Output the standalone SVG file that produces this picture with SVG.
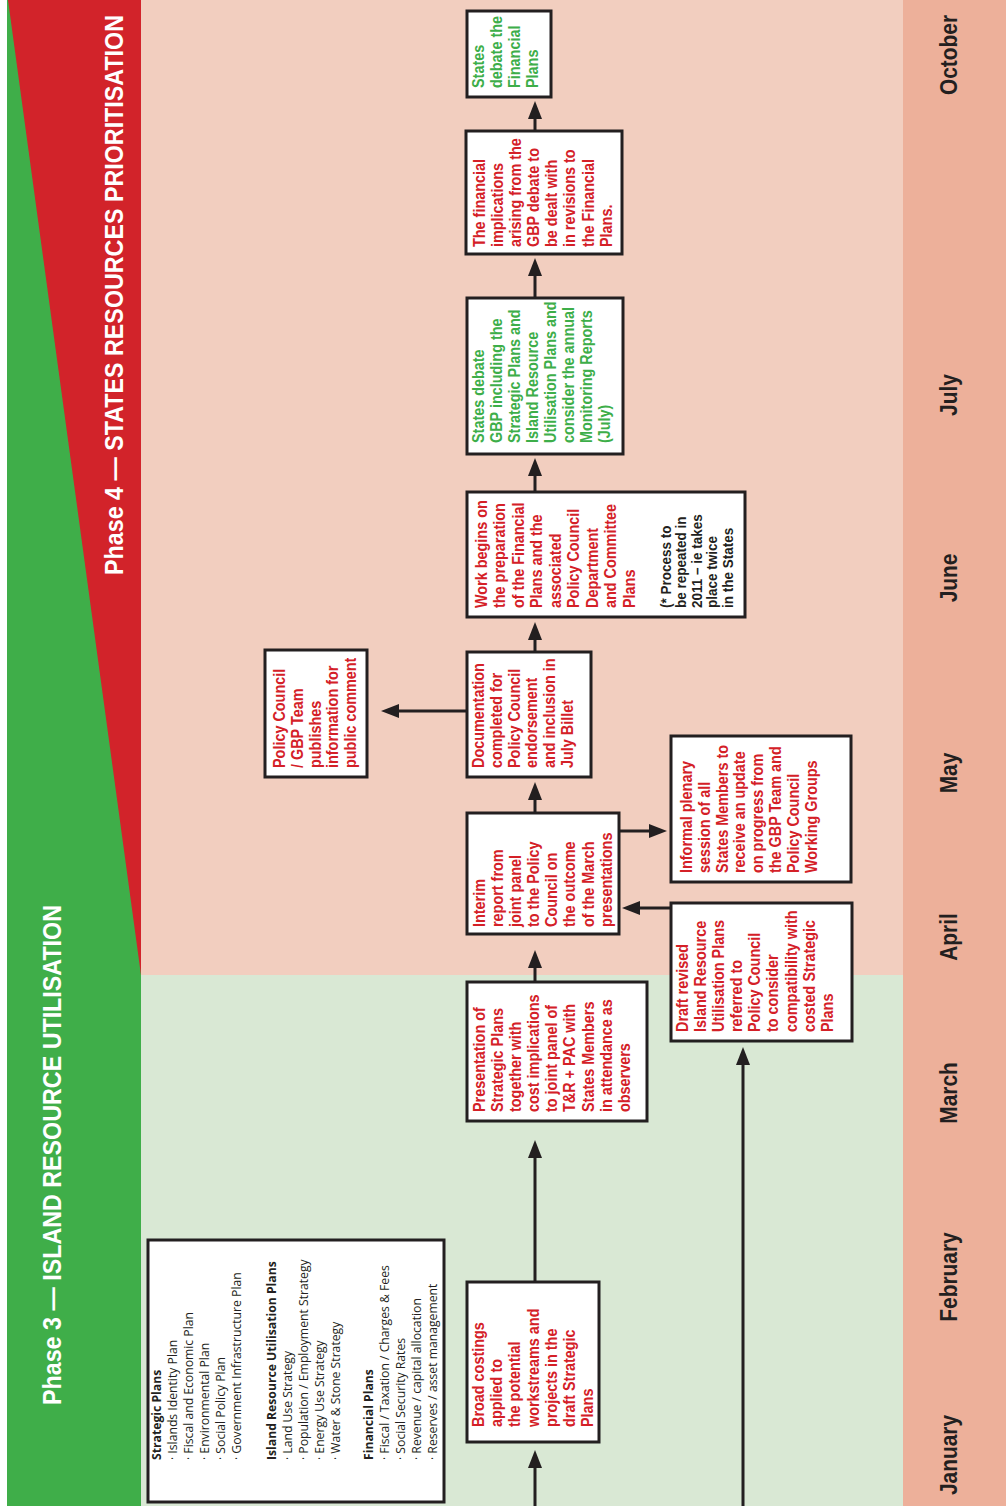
<svg xmlns="http://www.w3.org/2000/svg" width="1006" height="1506" viewBox="0 0 1006 1506">
<defs>
<style>
.box{fill:#fff;stroke:#231F20;stroke-width:3}
.r{font-family:"Liberation Sans",Arial,sans-serif;font-weight:bold;font-size:16px;fill:#D42027}
.g{font-family:"Liberation Sans",Arial,sans-serif;font-weight:bold;font-size:16px;fill:#3DAE49}
.k{font-family:"Liberation Sans",Arial,sans-serif;font-weight:bold;font-size:15px;fill:#231F20}
.lg{font-family:"Open Sans",sans-serif;font-size:12.2px;fill:#231F20}
.lgb{font-family:"Open Sans",sans-serif;font-size:12.2px;font-weight:bold;fill:#231F20}
.mo{font-family:"Liberation Sans",Arial,sans-serif;font-weight:bold;font-size:24px;fill:#231F20;text-anchor:middle}
.ti{font-family:"Liberation Sans",Arial,sans-serif;font-weight:bold;font-size:25px;fill:#fff}
.c{stroke:#231F20;stroke-width:3;fill:none;marker-end:url(#ah)}
</style>
<marker id="ah" viewBox="0 0 18 14" refX="8" refY="7" markerWidth="18" markerHeight="14" markerUnits="userSpaceOnUse" orient="auto">
<path d="M0,0 L18,7 L0,14 Z" fill="#231F20"/>
</marker>
</defs>
<!-- background -->
<rect x="0" y="0" width="1006" height="1506" fill="#fff"/>
<rect x="141" y="0" width="762" height="975" fill="#F2CEBF"/>
<rect x="141" y="975" width="762" height="531" fill="#D9E8D4"/>
<rect x="903" y="0" width="103" height="1506" fill="#EDB09A"/>
<rect x="7" y="0" width="134" height="1506" fill="#3FAE49"/>
<polygon points="8,0 141,0 141,975" fill="#D2232A"/>
<text class="ti" transform="translate(61,1405) rotate(-90)" textLength="500" lengthAdjust="spacingAndGlyphs">Phase 3 — ISLAND RESOURCE UTILISATION</text>
<text class="ti" transform="translate(123,575) rotate(-90)" textLength="560" lengthAdjust="spacingAndGlyphs">Phase 4 — STATES RESOURCES PRIORITISATION</text>
<text transform="translate(190,1495) rotate(-90)" font-family="Liberation Sans, Arial, sans-serif" font-weight="bold" font-size="36" fill="#2E3192">2009</text>
<!-- months -->
<g transform="translate(957,0)">
<text class="mo" transform="translate(0,55) rotate(-90) scale(0.87 1)">October</text>
<text class="mo" transform="translate(0,395) rotate(-90) scale(0.87 1)">July</text>
<text class="mo" transform="translate(0,578) rotate(-90) scale(0.87 1)">June</text>
<text class="mo" transform="translate(0,773) rotate(-90) scale(0.87 1)">May</text>
<text class="mo" transform="translate(0,937) rotate(-90) scale(0.87 1)">April</text>
<text class="mo" transform="translate(0,1093) rotate(-90) scale(0.87 1)">March</text>
<text class="mo" transform="translate(0,1277) rotate(-90) scale(0.87 1)">February</text>
<text class="mo" transform="translate(0,1455) rotate(-90) scale(0.87 1)">January</text>
</g>
<!-- connectors -->
<g id="connectors">
<line class="c" x1="535" y1="1506" x2="535" y2="1460"/>
<line class="c" x1="535" y1="1282" x2="535" y2="1150"/>
<line class="c" x1="535" y1="982" x2="535" y2="960"/>
<line class="c" x1="535" y1="813" x2="535" y2="792"/>
<line class="c" x1="535" y1="652" x2="535" y2="632"/>
<line class="c" x1="535" y1="492" x2="535" y2="468"/>
<line class="c" x1="535" y1="298" x2="535" y2="268"/>
<line class="c" x1="535" y1="131" x2="535" y2="111"/>
<line class="c" x1="743" y1="1506" x2="743" y2="1057"/>
<line class="c" x1="619" y1="831" x2="657" y2="831"/>
<line class="c" x1="671" y1="908" x2="632" y2="908"/>
<line class="c" x1="467" y1="711" x2="391" y2="711"/>
</g>
<!-- legend -->
<g id="legend">
<rect class="box" x="148" y="1240" width="296" height="262"/>
<g transform="translate(0,1460) rotate(-90)">
<text class="lgb" x="0" y="161">Strategic Plans</text>
<text class="lg" x="0" y="177">· Islands Identity Plan</text>
<text class="lg" x="0" y="193">· Fiscal and Economic Plan</text>
<text class="lg" x="0" y="209">· Environmental Plan</text>
<text class="lg" x="0" y="225">· Social Policy Plan</text>
<text class="lg" x="0" y="241">· Government Infrastructure Plan</text>
<text class="lgb" x="0" y="276">Island Resource Utilisation Plans</text>
<text class="lg" x="0" y="292">· Land Use Strategy</text>
<text class="lg" x="0" y="308">· Population / Employment Strategy</text>
<text class="lg" x="0" y="324">· Energy Use Strategy</text>
<text class="lg" x="0" y="340">· Water &amp; Stone Strategy</text>
<text class="lgb" x="0" y="373">Financial Plans</text>
<text class="lg" x="0" y="389">· Fiscal / Taxation / Charges &amp; Fees</text>
<text class="lg" x="0" y="405">· Social Security Rates</text>
<text class="lg" x="0" y="421">· Revenue / capital allocation</text>
<text class="lg" x="0" y="437">· Reserves / asset management</text>
</g>
</g>
<g id="n-broad">
<rect class="box" x="467" y="1282" width="132" height="160"/>
<g class="r" transform="translate(484,1427) rotate(-90) scale(0.9 1)">
<text y="0">Broad costings</text><text y="18.2">applied to</text><text y="36.4">the potential</text><text y="54.6">workstreams and</text><text y="72.8">projects in the</text><text y="91">draft Strategic</text><text y="109.2">Plans</text>
</g>
</g>
<g id="n-presentation">
<rect class="box" x="467" y="982" width="180" height="139"/>
<g class="r" transform="translate(485,1112) rotate(-90) scale(0.9 1)">
<text y="0">Presentation of</text><text y="18.1">Strategic Plans</text><text y="36.2">together with</text><text y="54.3">cost implications</text><text y="72.4">to joint panel of</text><text y="90.5">T&amp;R + PAC with</text><text y="108.6">States Members</text><text y="126.7">in attendance as</text><text y="144.8">observers</text>
</g>
</g>
<g id="n-draft">
<rect class="box" x="671" y="903" width="181" height="138"/>
<g class="r" transform="translate(688,1032) rotate(-90) scale(0.9 1)">
<text y="0">Draft revised</text><text y="18.1">Island Resource</text><text y="36.2">Utilisation Plans</text><text y="54.3">referred to</text><text y="72.4">Policy Council</text><text y="90.5">to consider</text><text y="108.6">compatibility with</text><text y="126.7">costed Strategic</text><text y="144.8">Plans</text>
</g>
</g>
<g id="n-interim">
<rect class="box" x="467" y="813" width="152" height="121"/>
<g class="r" transform="translate(485,927) rotate(-90) scale(0.9 1)">
<text y="0">Interim</text><text y="18.1">report from</text><text y="36.2">joint panel</text><text y="54.3">to the Policy</text><text y="72.4">Council on</text><text y="90.5">the outcome</text><text y="108.6">of the March</text><text y="126.7">presentations</text>
</g>
</g>
<g id="n-informal">
<rect class="box" x="671" y="736" width="180" height="146"/>
<g class="r" transform="translate(692,873) rotate(-90) scale(0.9 1)">
<text y="0">Informal plenary</text><text y="17.8">session of all</text><text y="35.6">States Members to</text><text y="53.4">receive an update</text><text y="71.2">on progress from</text><text y="89">the GBP Team and</text><text y="106.8">Policy Council</text><text y="124.6">Working Groups</text>
</g>
</g>
<g id="n-publishes">
<rect class="box" x="265" y="650" width="102" height="127"/>
<g class="r" transform="translate(285,768) rotate(-90) scale(0.9 1)">
<text y="0">Policy Council</text><text y="17.8">/ GBP Team</text><text y="35.6">publishes</text><text y="53.4">information for</text><text y="71.2">public comment</text>
</g>
</g>
<g id="n-documentation">
<rect class="box" x="467" y="652" width="124" height="125"/>
<g class="r" transform="translate(484,768) rotate(-90) scale(0.9 1)">
<text y="0">Documentation</text><text y="17.8">completed for</text><text y="35.6">Policy Council</text><text y="53.4">endorsement</text><text y="71.2">and inclusion in</text><text y="89">July Billet</text>
</g>
</g>
<g id="n-work">
<rect class="box" x="467" y="492" width="278" height="125"/>
<g class="r" transform="translate(487,608) rotate(-90) scale(0.9 1)">
<text y="0">Work begins on</text><text y="18.5">the preparation</text><text y="37">of the Financial</text><text y="55.5">Plans and the</text><text y="74">associated</text><text y="92.5">Policy Council</text><text y="111">Department</text><text y="129.5">and Committee</text><text y="148">Plans</text>
</g>
<g class="k" transform="translate(671,608) rotate(-90) scale(0.9 1)">
<text y="0">(* Process to</text><text y="15.5">be repeated in</text><text y="31">2011 – ie takes</text><text y="46.5">place twice</text><text y="62">in the States</text>
</g>
</g>
<g id="n-debate-gbp">
<rect class="box" x="467" y="298" width="156" height="156"/>
<g class="g" transform="translate(484,443) rotate(-90) scale(0.9 1)">
<text y="0">States debate</text><text y="18">GBP including the</text><text y="36">Strategic Plans and</text><text y="54">Island Resource</text><text y="72">Utilisation Plans and</text><text y="90">consider the annual</text><text y="108">Monitoring Reports</text><text y="126">(July)</text>
</g>
</g>
<g id="n-financial">
<rect class="box" x="466" y="131" width="156" height="123"/>
<g class="r" transform="translate(485,247) rotate(-90) scale(0.9 1)">
<text y="0">The financial</text><text y="18.1">implications</text><text y="36.2">arising from the</text><text y="54.3">GBP debate to</text><text y="72.4">be dealt with</text><text y="90.5">in revisions to</text><text y="108.6">the Financial</text><text y="126.7">Plans.</text>
</g>
</g>
<g id="n-debate-fin">
<rect class="box" x="467" y="11" width="84" height="86"/>
<g class="g" transform="translate(484,88) rotate(-90) scale(0.9 1)">
<text y="0">States</text><text y="18">debate the</text><text y="36">Financial</text><text y="54">Plans</text>
</g>
</g>
</svg>
